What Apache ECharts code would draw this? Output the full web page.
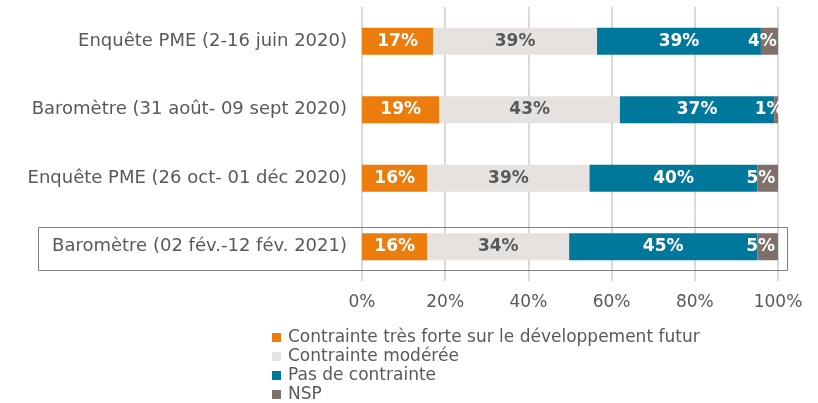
<!DOCTYPE html>
<html>
<head>
<meta charset="utf-8">
<script src="https://cdn.jsdelivr.net/npm/echarts@6/dist/echarts.min.js"></script>
<style>
  html, body { margin: 0; padding: 0; background: #fff; }
  #chart { width: 818px; height: 403px; }
</style>
</head>
<body>
<div id="chart"></div>
<script>
// categories, top to bottom
const categories = [
  'Enquête PME (2-16 juin 2020)',
  'Baromètre (31 août- 09 sept 2020)',
  'Enquête PME (26 oct- 01 déc 2020)',
  'Baromètre (02 fév.-12 fév. 2021)'
]
const seriesNames = [
  'Contrainte très forte sur le développement futur',
  'Contrainte modérée',
  'Pas de contrainte',
  'NSP'
]
// shares in %
const forte = [17.1, 18.6, 15.7, 15.7]
const moderee = [39.4, 43.4, 39.0, 34.1]
const pasDe = [39.4, 37.1, 40.4, 45.2]
const nsp = [4.1, 0.9, 4.9, 5.0]
const xTicks = [0, 20, 40, 60, 80, 100]

const colors = ['#EC7D0D', '#E6E2DF', '#00789C', '#7F7169']
const labelColors = ['#ffffff', '#595959', '#ffffff', '#ffffff']
const font = '"DejaVu Sans", sans-serif'

const chart = echarts.init(document.getElementById('chart'))

const makeSeries = (name, data, i) => ({
  name,
  type: 'bar',
  stack: 'total',
  barWidth: 27,
  data,
  itemStyle: { color: colors[i] },
  label: {
    show: true,
    position: 'inside',
    offset: i === 3 ? [-7, 0] : [0, 0],
    color: labelColors[i],
    fontFamily: font,
    fontSize: 17,
    fontWeight: 'bold',
    formatter: p => Math.round(p.value) + '%'
  }
})

chart.setOption({
  animation: false,
  grid: { left: 362, right: 40, top: 7, bottom: 122 },
  legend: {
    orient: 'vertical',
    left: 272,
    top: 329,
    height: 80,
    padding: 0,
    itemWidth: 9,
    itemHeight: 9,
    itemGap: 2,
    icon: 'rect',
    textStyle: { fontFamily: font, fontSize: 17, color: '#595959', padding: [0, 0, 0, 2] },
    data: seriesNames
  },
  xAxis: {
    type: 'value',
    min: 0,
    max: 100,
    interval: 20,
    axisLine: { show: false },
    axisTick: { show: false },
    splitLine: { lineStyle: { color: '#D9D9D9', width: 2 } },
    axisLabel: {
      margin: 13,
      fontFamily: font,
      fontSize: 17,
      color: '#595959',
      formatter: v => (xTicks.includes(v) ? v + '%' : '')
    }
  },
  yAxis: {
    type: 'category',
    inverse: true,
    data: categories,
    axisLine: { show: false },
    axisTick: { show: false },
    axisLabel: { margin: 15, fontFamily: font, fontSize: 18, color: '#595959' }
  },
  graphic: [{
    type: 'rect',
    shape: { x: 38.5, y: 227.5, width: 749, height: 43 },
    style: { fill: 'none', stroke: '#7F7F7F', lineWidth: 1 },
    z: 10
  }],
  series: [
    makeSeries(seriesNames[0], forte, 0),
    makeSeries(seriesNames[1], moderee, 1),
    makeSeries(seriesNames[2], pasDe, 2),
    makeSeries(seriesNames[3], nsp, 3)
  ]
})
</script>
</body>
</html>
